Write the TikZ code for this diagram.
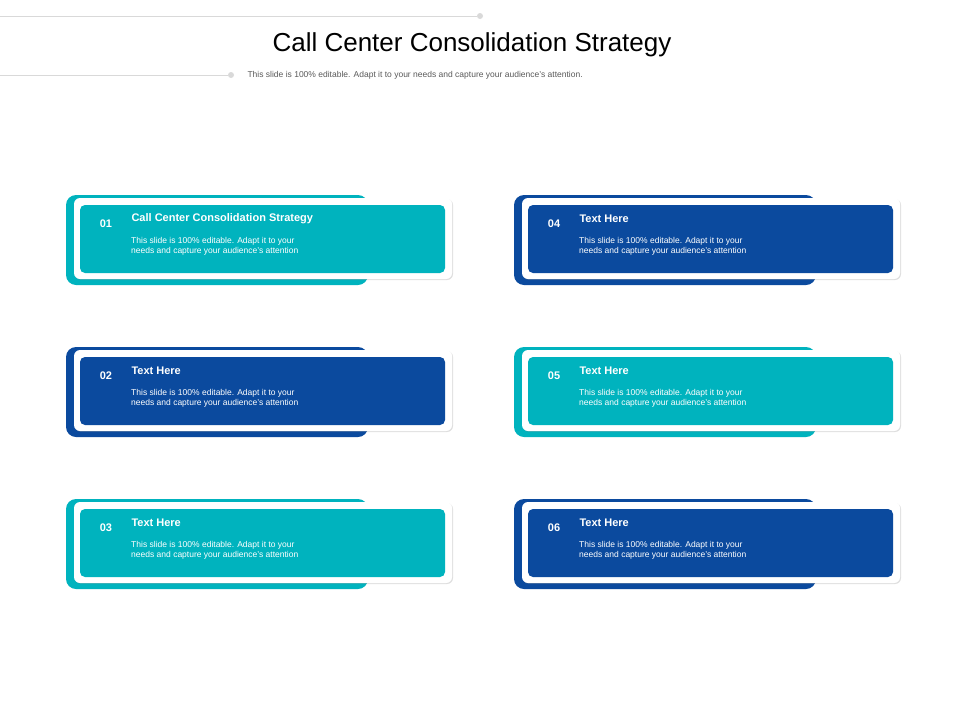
\documentclass[tikz,border=0pt]{standalone}
\usepackage{fontspec}
\setmainfont{Liberation Sans}
\usetikzlibrary{positioning,shadows}
\definecolor{teal}{HTML}{00B3BE}
\definecolor{navy}{HTML}{0B4A9E}
\definecolor{rule}{HTML}{D9D9D9}
\tikzset{
    x=1pt,
    y=-1pt,
    tab/.style = {
        rounded corners=10pt
    },
    frame/.style = {
        fill=white,
        rounded corners=6pt,
        drop shadow={shadow xshift=1pt, shadow yshift=-1pt, opacity=0.25}
    },
    panel/.style = {
        rounded corners=5pt
    },
    num/.style = {
        text=white,
        font=\bfseries\fontsize{11}{13}\selectfont
    },
    title/.style = {
        text=white,
        anchor=west,
        font=\bfseries\fontsize{11}{13}\selectfont
    },
    body/.style = {
        text=white,
        anchor=north west,
        align=left,
        inner sep=0pt,
        font=\fontsize{8.5}{10.5}\selectfont
    },
    dot/.style = {
        circle,
        fill=rule,
        inner sep=0pt,
        minimum size=6pt
    },
}
\begin{document}
\begin{tikzpicture}
    \useasboundingbox (0,0) rectangle (960,720);

    % header
    \node[dot] (d1) at (480,16) {};
    \node[dot] (d2) at (231,75) {};
    \coordinate (l1) at (0,16);
    \coordinate (l2) at (0,75);
    \draw[rule, line width=0.8pt] (l1) -- (d1);
    \draw[rule, line width=0.8pt] (l2) -- (d2);
    \node[font=\fontsize{26}{30}\selectfont] (head) at (472,45) {Call Center Consolidation Strategy};
    \node[anchor=west, text=black!65, font=\fontsize{8.5}{10}\selectfont] (sub) at (244,75)
        {This slide is 100\% editable. Adapt it to your needs and capture your audience’s attention.};

    % cards
    \foreach \i/\cx/\cy/\col/\ttl in {
        1/0/0/teal/Call Center Consolidation Strategy,
        2/0/152/navy/Text Here,
        3/0/304/teal/Text Here,
        4/448/0/navy/Text Here,
        5/448/152/teal/Text Here,
        6/448/304/navy/Text Here} {
        \begin{scope}[shift={(\cx,\cy)}]
            \fill[\col, tab] (66,195) rectangle (368,285);
            \fill[frame] (74,198) rectangle (452,279);
            \fill[\col, panel] (80,205) rectangle (445,273);
            \node[num] (num\i) at (106,224) {0\i};
            \node[title] (ttl\i) at (128,219) {\ttl};
            \node[body] (txt\i) at (131,237) {This slide is 100\% editable. Adapt it to your\\needs and capture your audience's attention};
        \end{scope}
    }
\end{tikzpicture}
\end{document}
